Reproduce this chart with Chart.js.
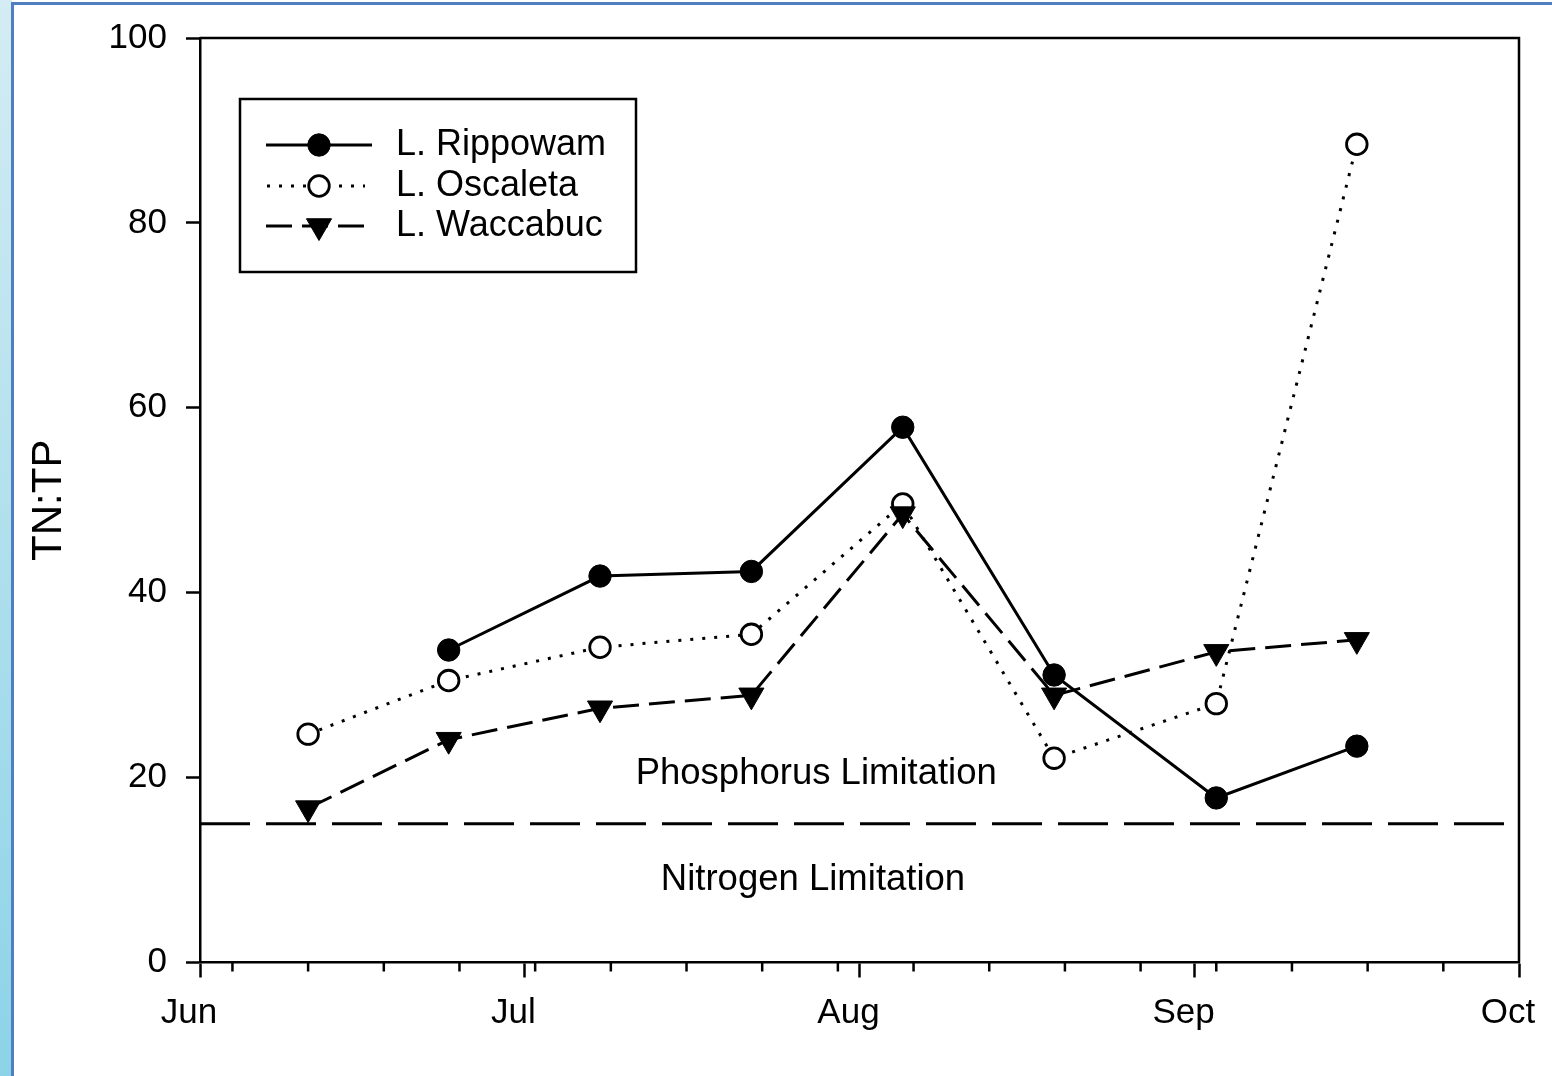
<!DOCTYPE html>
<html>
<head>
<meta charset="utf-8">
<title>TN:TP ratios</title>
<script src="https://cdn.jsdelivr.net/npm/chart.js@4.4.0/dist/chart.umd.min.js"></script>
<style>
  html, body { margin: 0; padding: 0; background: #fff; overflow: hidden; }
  #frame { position: relative; width: 1552px; height: 1076px; background: #fff; }
  #side { position: absolute; left: 0; top: 0; width: 12px; height: 1076px;
          background: linear-gradient(#d4ecf3, #8cd3e7); }
  #sideLine { position: absolute; left: 11px; top: 2px; width: 3px; height: 1074px; background: #4f7fc0; }
  #topLine { position: absolute; left: 11px; top: 2px; width: 1541px; height: 3px; background: #4f7fc0; }
  #wrap { position: absolute; left: 0; top: 0; width: 1552px; height: 1076px; }
</style>
</head>
<body>
<div id="frame">
  <div id="side"></div>
  <div id="sideLine"></div>
  <div id="topLine"></div>
  <div id="wrap"><canvas id="chart"></canvas></div>
</div>
<script>
// Sampling dates and TN:TP ratios for the three lakes
const seasonStart = '2017-06-01';
const sampleDates = ['2017-06-11', '2017-06-24', '2017-07-08', '2017-07-22',
                     '2017-08-05', '2017-08-19', '2017-09-03', '2017-09-16'];
const rippowam = [null, 33.8, 41.8, 42.3, 57.9, 31.1, 17.8, 23.4];
const oscaleta = [24.7, 30.5, 34.1, 35.5, 49.6, 22.1, 28.0, 88.5];
const waccabuc = [16.7, 24.1, 27.5, 28.9, 48.5, 28.9, 33.6, 34.9];

// Axis ticks
const monthTickDates = ['2017-06-01', '2017-07-01', '2017-08-01', '2017-09-01', '2017-10-01'];
const monthLabels = ['Jun', 'Jul', 'Aug', 'Sep', 'Oct'];
const weekTickDates = ['2017-06-04', '2017-06-11', '2017-06-18', '2017-06-25',
                       '2017-07-02', '2017-07-09', '2017-07-16', '2017-07-23', '2017-07-30',
                       '2017-08-06', '2017-08-13', '2017-08-20', '2017-08-27',
                       '2017-09-03', '2017-09-10', '2017-09-17', '2017-09-24'];
const yTicks = [0, 20, 40, 60, 80, 100];

// Redfield-type threshold between N and P limitation
const limitRatio = 15;

const FONT = '"Liberation Sans", Arial, sans-serif';
const DAY_MS = 86400000;
const dayOf = d => (Date.parse(d) - Date.parse(seasonStart)) / DAY_MS;
const toPoints = vals => vals.map((v, i) => ({ x: dayOf(sampleDates[i]), y: v }));
const seasonEnd = dayOf(monthTickDates[monthTickDates.length - 1]);

// Frame, weekly minor ticks, legend and region labels
const decorations = {
  id: 'decorations',
  beforeDatasetsDraw(chart) {
    const { ctx, chartArea: a, scales: { x } } = chart;
    ctx.save();
    ctx.strokeStyle = '#000';
    ctx.lineWidth = 2.5;
    ctx.beginPath();
    ctx.moveTo(a.left, a.top);
    ctx.lineTo(a.right, a.top);
    ctx.lineTo(a.right, a.bottom);
    ctx.stroke();
    ctx.beginPath();
    weekTickDates.forEach(d => {
      const px = x.getPixelForValue(dayOf(d));
      ctx.moveTo(px, a.bottom);
      ctx.lineTo(px, a.bottom + 9);
    });
    ctx.stroke();
    ctx.restore();
  },
  afterDatasetsDraw(chart) {
    const { ctx, chartArea: a, scales: { x, y } } = chart;
    ctx.save();
    // region labels
    ctx.fillStyle = '#000';
    ctx.font = '36.5px ' + FONT;
    ctx.textAlign = 'center';
    ctx.textBaseline = 'alphabetic';
    ctx.fillText('Phosphorus Limitation', x.getPixelForValue(57.0), y.getPixelForValue(19.35));
    ctx.fillText('Nitrogen Limitation', x.getPixelForValue(56.7), y.getPixelForValue(7.8));

    // legend box
    const bx = a.left + 40, by = a.top + 61, bw = 396, bh = 173;
    ctx.fillStyle = '#fff';
    ctx.fillRect(bx, by, bw, bh);
    ctx.strokeStyle = '#000';
    ctx.lineWidth = 2.5;
    ctx.strokeRect(bx, by, bw, bh);

    const rows = [46, 87, 127];
    const lineEnds = [[26, 132], [27, 125], [26, 124]];
    chart.data.datasets.slice(0, 3).forEach((ds, i) => {
      const ry = by + rows[i];
      ctx.save();
      ctx.strokeStyle = ds.borderColor;
      ctx.lineWidth = ds.borderWidth;
      ctx.setLineDash(ds.borderDash || []);
      ctx.beginPath();
      ctx.moveTo(bx + lineEnds[i][0], ry);
      ctx.lineTo(bx + lineEnds[i][1], ry);
      ctx.stroke();
      ctx.setLineDash([]);
      ctx.fillStyle = ds.pointBackgroundColor;
      ctx.strokeStyle = ds.pointBorderColor;
      ctx.lineWidth = ds.pointBorderWidth;
      Chart.helpers.drawPoint(ctx, {
        pointStyle: ds.pointStyle,
        rotation: ds.pointRotation || 0,
        radius: ds.pointRadius,
        borderWidth: ds.pointBorderWidth
      }, bx + 79, ry);
      ctx.restore();
      ctx.fillStyle = '#000';
      ctx.font = '36px ' + FONT;
      ctx.textAlign = 'left';
      ctx.textBaseline = 'middle';
      ctx.fillText(ds.label, bx + 156, ry);
    });
    ctx.restore();
  }
};

new Chart(document.getElementById('chart'), {
  type: 'line',
  data: {
    datasets: [
      {
        label: 'L. Rippowam',
        data: toPoints(rippowam),
        borderColor: '#000',
        borderWidth: 3,
        pointStyle: 'circle',
        pointRadius: 11.2,
        pointBackgroundColor: '#000',
        pointBorderColor: '#000',
        pointBorderWidth: 1,
        order: 3
      },
      {
        label: 'L. Oscaleta',
        data: toPoints(oscaleta),
        borderColor: '#000',
        borderWidth: 3,
        borderDash: [3, 9],
        pointStyle: 'circle',
        pointRadius: 10.3,
        pointBackgroundColor: '#fff',
        pointBorderColor: '#000',
        pointBorderWidth: 2.8,
        order: 2
      },
      {
        label: 'L. Waccabuc',
        data: toPoints(waccabuc),
        borderColor: '#000',
        borderWidth: 3,
        borderDash: [26, 10],
        pointStyle: 'triangle',
        pointRotation: 180,
        pointRadius: 14.5,
        pointBackgroundColor: '#000',
        pointBorderColor: '#000',
        pointBorderWidth: 1,
        order: 1
      },
      {
        label: 'threshold',
        data: [{ x: 0, y: limitRatio }, { x: seasonEnd, y: limitRatio }],
        borderColor: '#000',
        borderWidth: 3,
        borderDash: [50, 16],
        pointRadius: 0,
        order: 4
      }
    ]
  },
  options: {
    responsive: true,
    maintainAspectRatio: false,
    animation: false,
    events: [],
    layout: { padding: { left: 0, top: 38, right: 33, bottom: 0 } },
    plugins: { legend: { display: false }, tooltip: { enabled: false } },
    scales: {
      x: {
        type: 'linear',
        min: 0,
        max: seasonEnd,
        afterBuildTicks: s => { s.ticks = monthTickDates.map(d => ({ value: dayOf(d) })); },
        afterFit: s => { s.height = 113.5; s.paddingLeft = 0; s.paddingRight = 0; },
        ticks: {
          callback: (v, i) => monthLabels[i],
          font: { family: FONT, size: 35 },
          color: '#000',
          padding: 15,
          labelOffset: -11,
          maxRotation: 0,
          autoSkip: false
        },
        grid: { drawOnChartArea: false, tickLength: 15, tickWidth: 2.5, tickColor: '#000' },
        border: { display: true, color: '#000', width: 2.5 }
      },
      y: {
        min: 0,
        max: 100,
        afterBuildTicks: s => { s.ticks = yTicks.map(v => ({ value: v })); },
        afterFit: s => { s.width = 200; s.paddingTop = 0; s.paddingBottom = 0; },
        ticks: {
          font: { family: FONT, size: 35 },
          color: '#000',
          padding: 19
        },
        grid: { drawOnChartArea: false, tickLength: 14, tickWidth: 2.5, tickColor: '#000' },
        border: { display: true, color: '#000', width: 2.5 },
        title: {
          display: true,
          text: 'TN:TP',
          font: { family: FONT, size: 42 },
          color: '#000',
          padding: { top: 24, bottom: 0 }
        }
      }
    }
  },
  plugins: [decorations]
});
</script>
</body>
</html>
